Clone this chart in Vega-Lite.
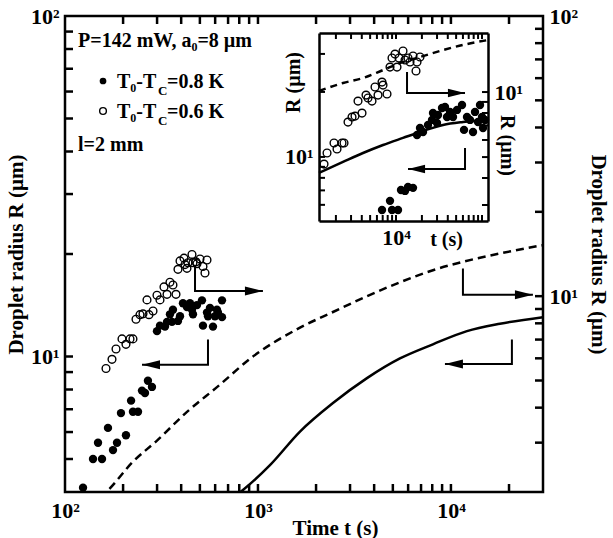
{
  "$schema": "https://vega.github.io/schema/vega-lite/v6.json",
  "width": 478,
  "height": 476,
  "autosize": {"type": "none"},
  "padding": {"left": 65, "top": 16, "right": 70, "bottom": 46},
  "background": "white",
  "config": {
    "font": "Liberation Serif",
    "view": {"stroke": "black", "strokeWidth": 2.5},
    "axis": {
      "labelFont": "Liberation Serif", "labelFontSize": 22, "labelFontWeight": "bold", "labelColor": "black",
      "titleFont": "Liberation Serif", "titleFontSize": 21, "titleFontWeight": "bold", "titleColor": "black",
      "ticks": false,
      "domain": false, "domainColor": "black", "domainWidth": 2.5, "grid": false,
      "labelPadding": 6, "labelFlush": false, "labelOverlap": false
    }
  },
  "layer": [
    {
      "data": {"values": [
        {"t":124,"R":4.12},{"t":139.7,"R":5.00},{"t":155.5,"R":5.00},{"t":148.3,"R":5.58},{"t":167,"R":6.17},{"t":177.3,"R":5.31},{"t":186,"R":5.58},{"t":195,"R":6.82},{"t":207,"R":5.87},{"t":220,"R":7.42},{"t":225,"R":6.88},{"t":239,"R":6.88},{"t":250.6,"R":7.94},{"t":259.7,"R":7.81},{"t":269,"R":8.49},{"t":282.3,"R":8.14},
        {"t":299.7,"R":11.87},{"t":310.6,"R":12.32},{"t":329.7,"R":12.24},{"t":337.8,"R":12.64},{"t":349.9,"R":13.30},{"t":362.6,"R":13.72},{"t":385,"R":12.72},{"t":394.5,"R":13.13},{"t":408.7,"R":14.34},{"t":428.6,"R":13.98},{"t":455,"R":13.72},{"t":460.5,"R":13.30},{"t":483,"R":14.16},{"t":512.7,"R":14.62},{"t":518.8,"R":12.32},{"t":544.3,"R":13.46},{"t":564,"R":13.89},{"t":584.6,"R":12.24},{"t":598.7,"R":13.13},{"t":620.4,"R":13.46},{"t":651,"R":13.05},{"t":651,"R":14.62},{"t":358.4,"R":12.64},{"t":550.8,"R":13.13},{"t":613,"R":13.72},{"t":444.2,"R":14.34}
      ]},
      "mark": {"type": "point", "filled": true, "color": "black", "opacity": 1, "size": 70},
      "encoding": {
        "x": {"field": "t", "type": "quantitative", "scale": {"type": "log", "domain": [100, 30000], "nice": false},
          "axis": {"orient": "bottom", "labelPadding": 8, "values": [100,1000,10000],
            "labelExpr": "datum.value == 100 ? '10²' : datum.value == 1000 ? '10³' : datum.value == 10000 ? '10⁴' : ''",
            "title": "Time t (s)", "titleX": 270, "titleY": 42, "titleBaseline": "alphabetic"}},
        "y": {"field": "R", "type": "quantitative", "scale": {"type": "log", "domain": [4, 100], "nice": false},
          "axis": {"orient": "left", "labelPadding": 6, "values": [10,100],
            "labelExpr": "datum.value == 10 ? '10¹' : datum.value == 100 ? '10²' : ''",
            "title": "Droplet radius R (µm)"}}
      }
    },
    {
      "data": {"values": [{"t":200},{"t":300},{"t":400},{"t":500},{"t":600},{"t":700},{"t":800},{"t":900},{"t":1000},{"t":2000},{"t":3000},{"t":4000},{"t":5000},{"t":6000},{"t":7000},{"t":8000},{"t":9000},{"t":10000},{"t":20000}]},
      "mark": {"type": "rule", "color": "black", "strokeWidth": 2.5, "y2Offset": -8},
      "encoding": {
        "x": {"field": "t", "type": "quantitative", "scale": {"type": "log", "domain": [100, 30000], "nice": false}, "axis": null},
        "y": {"datum": 4, "type": "quantitative", "scale": {"type": "log", "domain": [4, 100], "nice": false}, "axis": null},
        "y2": {"datum": 4}
      }
    },
    {
      "data": {"values": [{"t":200},{"t":300},{"t":400},{"t":500},{"t":600},{"t":700},{"t":800},{"t":900},{"t":1000},{"t":2000},{"t":3000},{"t":4000},{"t":5000},{"t":6000},{"t":7000},{"t":8000},{"t":9000},{"t":10000},{"t":20000}]},
      "mark": {"type": "rule", "color": "black", "strokeWidth": 2.5, "y2Offset": 8},
      "encoding": {
        "x": {"field": "t", "type": "quantitative", "scale": {"type": "log", "domain": [100, 30000], "nice": false}, "axis": null},
        "y": {"datum": 100, "type": "quantitative", "scale": {"type": "log", "domain": [4, 100], "nice": false}, "axis": null},
        "y2": {"datum": 100}
      }
    },
    {
      "data": {"values": [{"R":5},{"R":6},{"R":7},{"R":8},{"R":9},{"R":10},{"R":20},{"R":30},{"R":40},{"R":50},{"R":60},{"R":70},{"R":80},{"R":90}]},
      "mark": {"type": "rule", "color": "black", "strokeWidth": 2.5, "x2Offset": 8},
      "encoding": {
        "x": {"datum": 100, "type": "quantitative", "scale": {"type": "log", "domain": [100, 30000], "nice": false}, "axis": null},
        "x2": {"datum": 100},
        "y": {"field": "R", "type": "quantitative", "scale": {"type": "log", "domain": [4, 100], "nice": false}, "axis": null}
      }
    },
    {
      "data": {"values": [
        {"t":768,"R":3.90},{"t":836,"R":4.053},{"t":1154,"R":4.796},{"t":1651,"R":6.02},{"t":2447,"R":7.30},{"t":3672,"R":8.64},{"t":5442,"R":9.87},{"t":8067,"R":10.86},{"t":12100,"R":11.87},{"t":17940,"R":12.48},{"t":29980,"R":13.05}
      ]},
      "mark": {"type": "line", "color": "black", "strokeWidth": 2.5, "clip": true, "interpolate": "monotone"},
      "encoding": {
        "x": {"field": "t", "type": "quantitative", "scale": {"type": "log", "domain": [100, 30000], "nice": false}, "axis": null},
        "y": {"field": "R", "type": "quantitative", "scale": {"type": "log", "domain": [4, 100], "nice": false}, "axis": null}
      }
    },
    {
      "data": {"values": [
        {"arrow":"a1","seq":1,"t":471.8,"R":18.47},{"arrow":"a1","seq":2,"t":471.8,"R":15.57},{"arrow":"a1","seq":3,"t":1061,"R":15.57},
        {"arrow":"a2","seq":1,"t":550.8,"R":11.21},{"arrow":"a2","seq":2,"t":550.8,"R":9.45},{"arrow":"a2","seq":3,"t":250.6,"R":9.45},
        {"arrow":"a3","seq":1,"t":11540,"R":18.12},{"arrow":"a3","seq":2,"t":11540,"R":15.18},{"arrow":"a3","seq":3,"t":26600,"R":15.18},
        {"arrow":"a4","seq":1,"t":20700,"R":11.21},{"arrow":"a4","seq":2,"t":20700,"R":9.51},{"arrow":"a4","seq":3,"t":9310,"R":9.51}
      ]},
      "mark": {"type": "line", "color": "black", "strokeWidth": 2},
      "encoding": {
        "x": {"field": "t", "type": "quantitative", "scale": {"type": "log", "domain": [100, 30000], "nice": false}, "axis": null},
        "y": {"field": "R", "type": "quantitative", "scale": {"type": "log", "domain": [4, 100], "nice": false}, "axis": null},
        "detail": {"field": "arrow"},
        "order": {"field": "seq"}
      }
    },
    {
      "data": {"values": [{"t":1061,"R":15.57},{"t":26600,"R":15.18}]},
      "mark": {"type": "point", "shape": "M -3.6 -0.9 L 0 0 L -3.6 0.9 Z", "filled": true, "color": "black", "opacity": 1, "size": 100},
      "encoding": {
        "x": {"field": "t", "type": "quantitative", "scale": {"type": "log", "domain": [100, 30000], "nice": false}, "axis": null},
        "y": {"field": "R", "type": "quantitative", "scale": {"type": "log", "domain": [4, 100], "nice": false}, "axis": null}
      }
    },
    {
      "data": {"values": [{"t":250.6,"R":9.45},{"t":9310,"R":9.51}]},
      "mark": {"type": "point", "shape": "M 3.6 -0.9 L 0 0 L 3.6 0.9 Z", "filled": true, "color": "black", "opacity": 1, "size": 100},
      "encoding": {
        "x": {"field": "t", "type": "quantitative", "scale": {"type": "log", "domain": [100, 30000], "nice": false}, "axis": null},
        "y": {"field": "R", "type": "quantitative", "scale": {"type": "log", "domain": [4, 100], "nice": false}, "axis": null}
      }
    },
    {
      "data": {"values": [
        {"t":116.8,"R":81.1,"label":"P=142 mW, a₀=8 µm"},
        {"t":186,"R":61.45,"label":"T₀-T"},{"t":337.8,"R":61.45,"label":"=0.8 K"},
        {"t":186,"R":50.17,"label":"T₀-T"},{"t":337.8,"R":50.17,"label":"=0.6 K"},
        {"t":116.8,"R":40.14,"label":"l=2 mm"}
      ]},
      "mark": {"type": "text", "align": "left", "baseline": "alphabetic", "font": "Liberation Serif", "fontWeight": "bold", "fontSize": 20, "color": "black"},
      "encoding": {
        "x": {"field": "t", "type": "quantitative", "scale": {"type": "log", "domain": [100, 30000], "nice": false}, "axis": null},
        "y": {"field": "R", "type": "quantitative", "scale": {"type": "log", "domain": [4, 100], "nice": false}, "axis": null},
        "text": {"field": "label"}
      }
    },
    {
      "data": {"values": [{"t":303.4,"R":58.6,"label":"C"},{"t":303.4,"R":47.85,"label":"C"}]},
      "mark": {"type": "text", "align": "left", "baseline": "alphabetic", "font": "Liberation Serif", "fontWeight": "bold", "fontSize": 13, "color": "black"},
      "encoding": {
        "x": {"field": "t", "type": "quantitative", "scale": {"type": "log", "domain": [100, 30000], "nice": false}, "axis": null},
        "y": {"field": "R", "type": "quantitative", "scale": {"type": "log", "domain": [4, 100], "nice": false}, "axis": null},
        "text": {"field": "label"}
      }
    },
    {
      "data": {"values": [{"t":157.4,"R":64.44}]},
      "mark": {"type": "point", "filled": true, "color": "black", "opacity": 1, "size": 45},
      "encoding": {
        "x": {"field": "t", "type": "quantitative", "scale": {"type": "log", "domain": [100, 30000], "nice": false}, "axis": null},
        "y": {"field": "R", "type": "quantitative", "scale": {"type": "log", "domain": [4, 100], "nice": false}, "axis": null}
      }
    },
    {
      "data": {"values": [{"t":157.4,"R":52.6}]},
      "mark": {"type": "point", "filled": false, "color": "black", "opacity": 1, "strokeWidth": 1.4, "size": 45},
      "encoding": {
        "x": {"field": "t", "type": "quantitative", "scale": {"type": "log", "domain": [100, 30000], "nice": false}, "axis": null},
        "y": {"field": "R", "type": "quantitative", "scale": {"type": "log", "domain": [4, 100], "nice": false}, "axis": null}
      }
    },
    {
      "data": {"values": [
        {"t":163.1,"R":5.52},{"t":175.2,"R":5.95},{"t":183.8,"R":6.48},{"t":197.4,"R":7.04},{"t":207,"R":6.73},{"t":217.2,"R":7.04},{"t":225,"R":7.04},{"t":233.3,"R":8.27},{"t":244.7,"R":8.59},{"t":253.6,"R":8.65},{"t":272.4,"R":8.59},{"t":266,"R":9.70},{"t":285.8,"R":8.85},{"t":299.7,"R":10.08},{"t":310.6,"R":9.70},{"t":325.8,"R":10.79},{"t":337.8,"R":10.15},{"t":349.9,"R":11.21},{"t":362.6,"R":10.96},{"t":376,"R":10.15},
        {"t":385,"R":12.47},{"t":394.5,"R":13.36},{"t":413.6,"R":13.67},{"t":428.6,"R":12.57},{"t":433.7,"R":13.16},{"t":455,"R":14.09},{"t":460.5,"R":13.16},{"t":483,"R":13.06},{"t":500.6,"R":13.57},{"t":518.8,"R":12.76},{"t":531.4,"R":12.10},{"t":544.3,"R":13.46},{"t":477,"R":13.26},{"t":418.5,"R":12.96}
      ]},
      "mark": {"type": "point", "filled": false, "color": "black", "opacity": 1, "strokeWidth": 1.4, "size": 60},
      "encoding": {
        "x": {"field": "t", "type": "quantitative", "scale": {"type": "log", "domain": [100, 30000], "nice": false}, "axis": null},
        "y": {"field": "R", "type": "quantitative", "scale": {"type": "log", "domain": [2, 100], "nice": false},
          "axis": {"orient": "right", "labelPadding": 6, "values": [10,100],
            "labelExpr": "datum.value == 10 ? '10¹' : datum.value == 100 ? '10²' : ''",
            "title": "Droplet radius R (µm)", "titlePadding": 10}}
      }
    },
    {
      "data": {"values": [{"R":3},{"R":4},{"R":5},{"R":6},{"R":7},{"R":8},{"R":9},{"R":10},{"R":20},{"R":30},{"R":40},{"R":50},{"R":60},{"R":70},{"R":80},{"R":90}]},
      "mark": {"type": "rule", "color": "black", "strokeWidth": 2.5, "x2Offset": -8},
      "encoding": {
        "x": {"datum": 30000, "type": "quantitative", "scale": {"type": "log", "domain": [100, 30000], "nice": false}, "axis": null},
        "x2": {"datum": 30000},
        "y": {"field": "R", "type": "quantitative", "scale": {"type": "log", "domain": [2, 100], "nice": false}, "axis": null}
      }
    },
    {
      "data": {"values": [
        {"t":151.8,"R":1.91},{"t":167.1,"R":2.03},{"t":225.1,"R":2.566},{"t":299.7,"R":3.052},{"t":428.6,"R":3.863},{"t":613.2,"R":4.735},{"t":942.2,"R":6.09},{"t":1651,"R":7.72},{"t":2447,"R":8.78},{"t":3672,"R":10.0},{"t":5442,"R":11.21},{"t":8067,"R":12.38},{"t":11540,"R":13.26},{"t":17940,"R":14.20},{"t":29980,"R":15.21}
      ]},
      "mark": {"type": "line", "color": "black", "strokeWidth": 2.5, "strokeDash": [8, 5], "clip": true, "interpolate": "monotone"},
      "encoding": {
        "x": {"field": "t", "type": "quantitative", "scale": {"type": "log", "domain": [100, 30000], "nice": false}, "axis": null},
        "y": {"field": "R", "type": "quantitative", "scale": {"type": "log", "domain": [2, 100], "nice": false}, "axis": null}
      }
    },
    {
      "data": {"values": [
        {"t":6874,"R":5.68},{"t":8515,"R":6.26},{"t":8985,"R":5.68},{"t":10550,"R":5.68},{"t":11430,"R":7.03},{"t":12730,"R":6.96},{"t":13790,"R":7.26},{"t":15770,"R":7.19},
        {"t":17550,"R":12.64},{"t":19010,"R":13.62},{"t":20600,"R":13.05},{"t":23560,"R":14.07},{"t":26220,"R":14.84},{"t":26930,"R":15.98},{"t":29970,"R":14.37},{"t":30790,"R":15.64},{"t":34260,"R":16.86},{"t":37130,"R":17.04},{"t":39180,"R":15.31},{"t":42460,"R":16.16},{"t":46010,"R":15.31},{"t":51210,"R":16.51},{"t":58540,"R":17.40},{"t":61760,"R":13.34},{"t":66930,"R":15.31},{"t":72540,"R":14.84},{"t":78590,"R":13.05},{"t":82910,"R":16.16},{"t":89840,"R":14.52},{"t":100000,"R":15.31},{"t":102700,"R":13.62},{"t":94780,"R":17.40},{"t":108400,"R":14.84}
      ]},
      "mark": {"type": "point", "filled": true, "color": "black", "opacity": 1, "size": 70},
      "encoding": {
        "x": {"field": "t", "type": "quantitative", "scale": {"type": "log", "domain": [1272, 117400], "range": [254, 423], "nice": false},
          "axis": {"orient": "bottom", "offset": -271, "domain": true, "labelPadding": 6, "values": [10000],
            "labelExpr": "datum.value == 10000 ? '10⁴' : ''",
            "title": "t (s)", "titleFontSize": 20, "titleX": 381, "titleY": 24, "titleBaseline": "alphabetic"}},
        "y": {"field": "R", "type": "quantitative", "scale": {"type": "log", "domain": [5.05, 37.5], "range": [205, 17], "nice": false},
          "axis": {"orient": "left", "offset": -254, "domain": true, "labelPadding": 6, "values": [10],
            "labelExpr": "datum.value == 10 ? '10¹' : ''",
            "title": "R (µm)", "titleFontSize": 20, "titleX": -26, "titleY": 66, "titleAlign": "center", "titleBaseline": "middle"}}
      }
    },
    {
      "data": {"values": [{"t":2000},{"t":3000},{"t":4000},{"t":5000},{"t":6000},{"t":7000},{"t":8000},{"t":9000},{"t":10000},{"t":20000},{"t":30000},{"t":40000},{"t":50000},{"t":60000},{"t":70000},{"t":80000},{"t":90000},{"t":100000}]},
      "mark": {"type": "rule", "color": "black", "strokeWidth": 2, "y2Offset": -6},
      "encoding": {
        "x": {"field": "t", "type": "quantitative", "scale": {"type": "log", "domain": [1272, 117400], "range": [254, 423], "nice": false}, "axis": null},
        "y": {"datum": 5.05, "type": "quantitative", "scale": {"type": "log", "domain": [5.05, 37.5], "range": [205, 17], "nice": false}, "axis": null},
        "y2": {"datum": 5.05}
      }
    },
    {
      "data": {"values": [{"t":2000},{"t":3000},{"t":4000},{"t":5000},{"t":6000},{"t":7000},{"t":8000},{"t":9000},{"t":10000},{"t":20000},{"t":30000},{"t":40000},{"t":50000},{"t":60000},{"t":70000},{"t":80000},{"t":90000},{"t":100000}]},
      "mark": {"type": "rule", "color": "black", "strokeWidth": 2, "y2Offset": 6},
      "encoding": {
        "x": {"field": "t", "type": "quantitative", "scale": {"type": "log", "domain": [1272, 117400], "range": [254, 423], "nice": false}, "axis": null},
        "y": {"datum": 37.5, "type": "quantitative", "scale": {"type": "log", "domain": [5.05, 37.5], "range": [205, 17], "nice": false}, "axis": null},
        "y2": {"datum": 37.5}
      }
    },
    {
      "data": {"values": [{"R":6},{"R":7},{"R":8},{"R":9},{"R":10},{"R":20},{"R":30}]},
      "mark": {"type": "rule", "color": "black", "strokeWidth": 2, "x2Offset": 6},
      "encoding": {
        "x": {"datum": 1272, "type": "quantitative", "scale": {"type": "log", "domain": [1272, 117400], "range": [254, 423], "nice": false}, "axis": null},
        "x2": {"datum": 1272},
        "y": {"field": "R", "type": "quantitative", "scale": {"type": "log", "domain": [5.05, 37.5], "range": [205, 17], "nice": false}, "axis": null}
      }
    },
    {
      "data": {"values": [
        {"t":1272,"R":8.43},{"t":2420,"R":9.48},{"t":4133,"R":10.43},{"t":7060,"R":11.36},{"t":12060,"R":12.25},{"t":20600,"R":13.19},{"t":35200,"R":14.07},{"t":60130,"R":14.52},{"t":117400,"R":14.84}
      ]},
      "mark": {"type": "line", "color": "black", "strokeWidth": 2.5, "interpolate": "monotone"},
      "encoding": {
        "x": {"field": "t", "type": "quantitative", "scale": {"type": "log", "domain": [1272, 117400], "range": [254, 423], "nice": false}, "axis": null},
        "y": {"field": "R", "type": "quantitative", "scale": {"type": "log", "domain": [5.05, 37.5], "range": [205, 17], "nice": false}, "axis": null}
      }
    },
    {
      "data": {"values": [
        {"arrow":"b1","seq":1,"t":13430,"R":24.75},{"arrow":"b1","seq":2,"t":13430,"R":19.79},{"arrow":"b1","seq":3,"t":63440,"R":19.79},
        {"arrow":"b2","seq":1,"t":63440,"R":11.01},{"arrow":"b2","seq":2,"t":63440,"R":8.80},{"arrow":"b2","seq":3,"t":13790,"R":8.80}
      ]},
      "mark": {"type": "line", "color": "black", "strokeWidth": 2},
      "encoding": {
        "x": {"field": "t", "type": "quantitative", "scale": {"type": "log", "domain": [1272, 117400], "range": [254, 423], "nice": false}, "axis": null},
        "y": {"field": "R", "type": "quantitative", "scale": {"type": "log", "domain": [5.05, 37.5], "range": [205, 17], "nice": false}, "axis": null},
        "detail": {"field": "arrow"},
        "order": {"field": "seq"}
      }
    },
    {
      "data": {"values": [{"t":63440,"R":19.79}]},
      "mark": {"type": "point", "shape": "M -3.6 -0.9 L 0 0 L -3.6 0.9 Z", "filled": true, "color": "black", "opacity": 1, "size": 90},
      "encoding": {
        "x": {"field": "t", "type": "quantitative", "scale": {"type": "log", "domain": [1272, 117400], "range": [254, 423], "nice": false}, "axis": null},
        "y": {"field": "R", "type": "quantitative", "scale": {"type": "log", "domain": [5.05, 37.5], "range": [205, 17], "nice": false}, "axis": null}
      }
    },
    {
      "data": {"values": [{"t":13790,"R":8.80}]},
      "mark": {"type": "point", "shape": "M 3.6 -0.9 L 0 0 L 3.6 0.9 Z", "filled": true, "color": "black", "opacity": 1, "size": 90},
      "encoding": {
        "x": {"field": "t", "type": "quantitative", "scale": {"type": "log", "domain": [1272, 117400], "range": [254, 423], "nice": false}, "axis": null},
        "y": {"field": "R", "type": "quantitative", "scale": {"type": "log", "domain": [5.05, 37.5], "range": [205, 17], "nice": false}, "axis": null}
      }
    },
    {
      "data": {"values": [
        {"t":1455,"R":4.64},{"t":1577,"R":5.22},{"t":1901,"R":5.81},{"t":2061,"R":5.45},{"t":2356,"R":5.81},{"t":2485,"R":5.81},{"t":2766,"R":7.26},{"t":3079,"R":7.66},{"t":3337,"R":7.74},{"t":4024,"R":7.99},{"t":3615,"R":9.08},{"t":4479,"R":9.68},{"t":4725,"R":9.38},{"t":5260,"R":9.08},{"t":5700,"R":10.55},{"t":6177,"R":9.68},{"t":6874,"R":11.12},{"t":7060,"R":10.77},{"t":7859,"R":9.79},
        {"t":8515,"R":13.05},{"t":8985,"R":14.37},{"t":9736,"R":14.99},{"t":10270,"R":13.05},{"t":10840,"R":14.37},{"t":12060,"R":15.48},{"t":12730,"R":14.07},{"t":13790,"R":14.37},{"t":14550,"R":13.77},{"t":15770,"R":14.68},{"t":17080,"R":12.51},{"t":17550,"R":13.77},{"t":19010,"R":14.52}
      ]},
      "mark": {"type": "point", "filled": false, "color": "black", "opacity": 1, "strokeWidth": 1.4, "size": 60},
      "encoding": {
        "x": {"field": "t", "type": "quantitative", "scale": {"type": "log", "domain": [1272, 117400], "range": [254, 423], "nice": false},
          "axis": {"orient": "top", "offset": -17, "domain": true, "labels": false, "values": [10000], "title": null}},
        "y": {"field": "R", "type": "quantitative", "scale": {"type": "log", "domain": [2.53, 18.76], "range": [205, 17], "nice": false},
          "axis": {"orient": "right", "offset": -55, "domain": true, "labelPadding": 6, "values": [10],
            "labelExpr": "datum.value == 10 ? '10¹' : ''",
            "title": "R (µm)", "titleFontSize": 20, "titleX": 18, "titleY": 129, "titleAlign": "center", "titleBaseline": "middle"}}
      }
    },
    {
      "data": {"values": [{"R":3},{"R":4},{"R":5},{"R":6},{"R":7},{"R":8},{"R":9},{"R":10}]},
      "mark": {"type": "rule", "color": "black", "strokeWidth": 2, "x2Offset": -6},
      "encoding": {
        "x": {"datum": 117400, "type": "quantitative", "scale": {"type": "log", "domain": [1272, 117400], "range": [254, 423], "nice": false}, "axis": null},
        "x2": {"datum": 117400},
        "y": {"field": "R", "type": "quantitative", "scale": {"type": "log", "domain": [2.53, 18.76], "range": [205, 17], "nice": false}, "axis": null}
      }
    },
    {
      "data": {"values": [
        {"t":1272,"R":10.11},{"t":2420,"R":11.01},{"t":4133,"R":11.61},{"t":7060,"R":12.64},{"t":11130,"R":13.62},{"t":19010,"R":14.52},{"t":35200,"R":15.64},{"t":66930,"R":16.68},{"t":117400,"R":17.40}
      ]},
      "mark": {"type": "line", "color": "black", "strokeWidth": 2.5, "strokeDash": [7, 5], "interpolate": "monotone"},
      "encoding": {
        "x": {"field": "t", "type": "quantitative", "scale": {"type": "log", "domain": [1272, 117400], "range": [254, 423], "nice": false}, "axis": null},
        "y": {"field": "R", "type": "quantitative", "scale": {"type": "log", "domain": [2.53, 18.76], "range": [205, 17], "nice": false}, "axis": null}
      }
    }
  ],
  "resolve": {"scale": {"x": "independent", "y": "independent"}, "axis": {"x": "independent", "y": "independent"}}
}
